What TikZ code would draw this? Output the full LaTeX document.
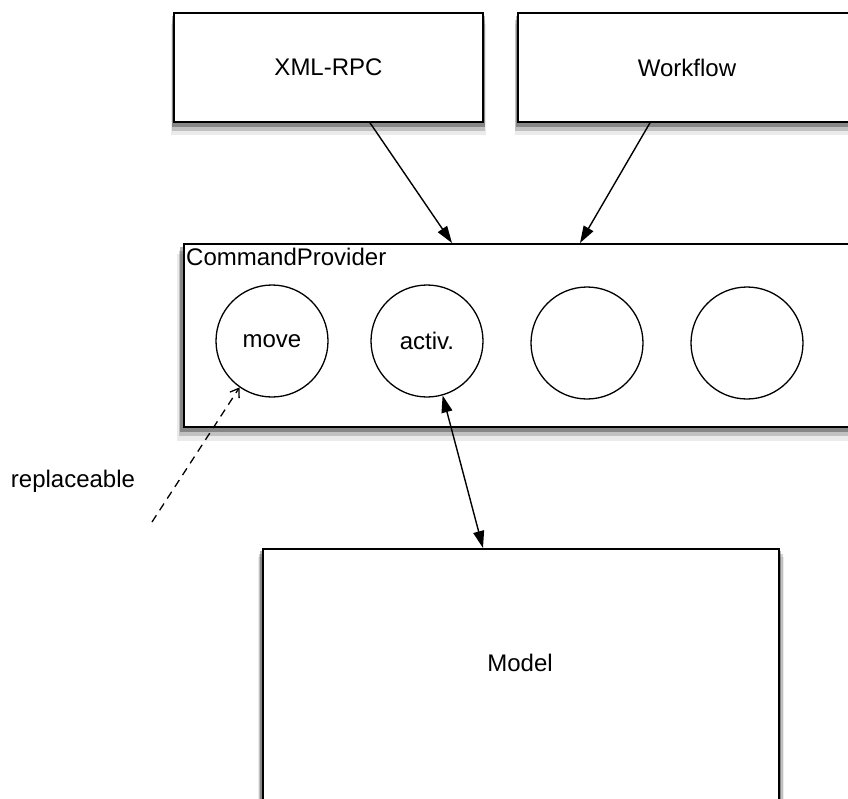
\documentclass[tikz,border=0pt]{standalone}
\usepackage{fontspec}
\setmainfont{Liberation Sans}
\usetikzlibrary{arrows.meta, shadows}

\tikzset{
    box/.style={draw, line width=1.6pt, fill=white, inner sep=0pt,
        drop shadow={shadow xshift=0pt, shadow yshift=-4pt, shadow scale=1.01, opacity=0.3, fill=black},
        drop shadow={shadow xshift=0pt, shadow yshift=-8pt, shadow scale=1.015, opacity=0.18, fill=black},
        drop shadow={shadow xshift=0pt, shadow yshift=-12pt, shadow scale=1.02, opacity=0.08, fill=black}},
    cmd/.style={draw, circle, line width=1.3pt, minimum size=112pt, inner sep=0pt},
    call/.style={line width=1.4pt, -{Triangle[length=17pt, width=11pt]}},
}

\begin{document}
\begin{tikzpicture}[x=1pt, y=-1pt, font=\fontsize{24}{29}\selectfont]
    \useasboundingbox (0, 0) rectangle (848, 798);
    \clip (0, 0) rectangle (848, 798);

    \node [box, minimum width=309pt, minimum height=109pt] (xmlrpc) at (328.5, 67.5) {XML-RPC};
    \node [box, minimum width=338pt, minimum height=109pt] (workflow) at (687, 67.5) {Workflow};

    \node [box, anchor=north west, minimum width=700pt, minimum height=183pt] (cmdprov) at (183, 243) {};
    \node [anchor=base west, inner sep=0pt] (cmdlabel) at ([shift={(3, 22)}]cmdprov.north west) {CommandProvider};

    \node [cmd] (move) at (272, 341) {move};
    \node [cmd] (activ) at (427, 341) {activ.};
    \node [cmd] (cmdthree) at (587, 343) {};
    \node [cmd] (cmdfour) at (747, 343) {};

    \node [box, anchor=north west, minimum width=516pt, minimum height=400pt] (model) at (262, 548) {};
    \node (modellabel) at (520, 663) {Model};

    \node (replaceable) at (73, 481) {replaceable};
    \coordinate (replfrom) at (152, 522);

    \draw [call] ([xshift=41.5]xmlrpc.south) -- ([xshift=269]cmdprov.north west);
    \draw [call] ([xshift=-37]workflow.south) -- ([xshift=397]cmdprov.north west);
    \draw [call, {Triangle[length=17pt, width=11pt]}-{Triangle[length=17pt, width=11pt]}]
        (activ.286) -- ([xshift=221]model.north west);
    \draw [line width=1.3pt, dash pattern=on 8pt off 6pt, -{Straight Barb[length=8pt, width=11pt]}]
        (replfrom) -- (move.235);
\end{tikzpicture}
\end{document}
